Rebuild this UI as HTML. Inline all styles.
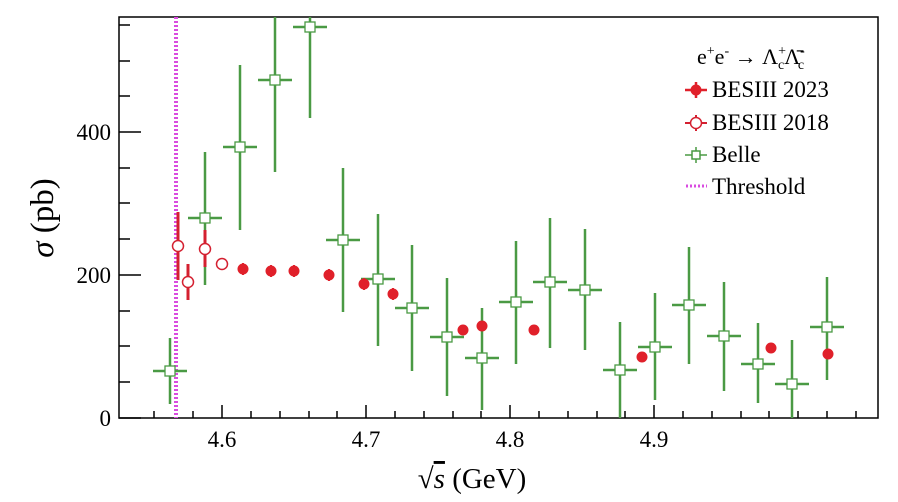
<!DOCTYPE html>
<html><head><style>body{margin:0;background:#fff}svg{display:block}</style></head><body>
<svg width="898" height="502" xmlns="http://www.w3.org/2000/svg" font-family="Liberation Serif, serif">
<rect width="898" height="502" fill="#fff"/>
<g stroke="#000" stroke-width="1.5" fill="none">
<rect x="119" y="17" width="759" height="401"/>
<path d="M119 418h22M119 275h22M119 132h22M119 382h11M119 346h11M119 311h11M119 239h11M119 203h11M119 168h11M119 96h11M119 61h11M119 25h11"/>
<path d="M222 418v-13M366 418v-13M510 418v-13M654 418v-13M154 418v-7M193 418v-7M251 418v-7M280 418v-7M309 418v-7M337 418v-7M395 418v-7M424 418v-7M453 418v-7M481 418v-7M539 418v-7M568 418v-7M597 418v-7M625 418v-7M683 418v-7M712 418v-7M741 418v-7M769 418v-7M798 418v-7M827 418v-7M856 418v-7"/>
</g>
<g font-size="23" fill="#000">
<text x="111" y="426" text-anchor="end">0</text>
<text x="111" y="283" text-anchor="end">200</text>
<text x="111" y="140" text-anchor="end">400</text>
<text x="222" y="447" text-anchor="middle">4.6</text>
<text x="366" y="447" text-anchor="middle">4.7</text>
<text x="510" y="447" text-anchor="middle">4.8</text>
<text x="654" y="447" text-anchor="middle">4.9</text>
</g>
<text transform="translate(53,218) rotate(-90)" font-size="33" text-anchor="middle"><tspan font-style="italic">σ</tspan> (pb)</text>
<text x="472" y="488" font-size="29" text-anchor="middle">√<tspan font-style="italic" text-decoration="overline">s</tspan> (GeV)</text>
<line x1="176" y1="17" x2="176" y2="418" stroke="#d94ce0" stroke-width="4" stroke-dasharray="2,2"/>
<g stroke="#4a9a44" stroke-width="2.5" fill="#fff">
<path d="M153 371h34M170 338v66"/><rect x="165" y="366" width="10" height="10" stroke-width="1.3"/>
<path d="M188 218h34M205 152v133"/><rect x="200" y="213" width="10" height="10" stroke-width="1.3"/>
<path d="M223 147h34M240 65v165"/><rect x="235" y="142" width="10" height="10" stroke-width="1.3"/>
<path d="M258 80h34M275 17v155"/><rect x="270" y="75" width="10" height="10" stroke-width="1.3"/>
<path d="M293 27h34M310 17v101"/><rect x="305" y="22" width="10" height="10" stroke-width="1.3"/>
<path d="M326 240h34M343 168v144"/><rect x="338" y="235" width="10" height="10" stroke-width="1.3"/>
<path d="M361 279h34M378 214v132"/><rect x="373" y="274" width="10" height="10" stroke-width="1.3"/>
<path d="M395 308h34M412 245v126"/><rect x="407" y="303" width="10" height="10" stroke-width="1.3"/>
<path d="M430 337h34M447 278v118"/><rect x="442" y="332" width="10" height="10" stroke-width="1.3"/>
<path d="M465 358h34M482 308v102"/><rect x="477" y="353" width="10" height="10" stroke-width="1.3"/>
<path d="M499 302h34M516 241v123"/><rect x="511" y="297" width="10" height="10" stroke-width="1.3"/>
<path d="M533 282h34M550 218v130"/><rect x="545" y="277" width="10" height="10" stroke-width="1.3"/>
<path d="M568 290h34M585 229v121"/><rect x="580" y="285" width="10" height="10" stroke-width="1.3"/>
<path d="M603 370h34M620 322v96"/><rect x="615" y="365" width="10" height="10" stroke-width="1.3"/>
<path d="M638 347h34M655 293v107"/><rect x="650" y="342" width="10" height="10" stroke-width="1.3"/>
<path d="M672 305h34M689 247v117"/><rect x="684" y="300" width="10" height="10" stroke-width="1.3"/>
<path d="M707 336h34M724 282v109"/><rect x="719" y="331" width="10" height="10" stroke-width="1.3"/>
<path d="M741 364h34M758 323v80"/><rect x="753" y="359" width="10" height="10" stroke-width="1.3"/>
<path d="M775 384h34M792 340v78"/><rect x="787" y="379" width="10" height="10" stroke-width="1.3"/>
<path d="M810 327h34M827 277v103"/><rect x="822" y="322" width="10" height="10" stroke-width="1.3"/>
</g>
<g stroke="#d42030" stroke-width="3" fill="#fff">
<path d="M178 212v68M188 264v36M205 230v37M222 259v11"/>
<g stroke-width="1.5"><circle cx="178" cy="246" r="5.5"/><circle cx="188" cy="282" r="5.5"/><circle cx="205" cy="249" r="5.5"/><circle cx="222" cy="264" r="5.5"/></g>
</g>
<g fill="#e0202a" stroke="#e0202a" stroke-width="2">
<circle cx="243" cy="269" r="4.5"/><circle cx="271" cy="271" r="4.5"/><circle cx="294" cy="271" r="4.5"/><circle cx="329" cy="275" r="4.5"/><circle cx="364" cy="284" r="4.5"/><circle cx="393" cy="294" r="4.5"/><circle cx="463" cy="330" r="4.5"/><circle cx="482" cy="326" r="4.5"/><circle cx="534" cy="330" r="4.5"/><circle cx="642" cy="357" r="4.5"/><circle cx="771" cy="348" r="4.5"/><circle cx="828" cy="354" r="4.5"/>
<path d="M243 263v12M271 265v12M294 265v12M329 269v12M364 278v12M393 288v12"/>
</g>
<g font-size="23" fill="#000">
<text x="697" y="64" font-size="22">e<tspan dy="-9" font-size="14">+</tspan><tspan dy="9">e</tspan><tspan dy="-9" font-size="14">-</tspan><tspan dy="9"> → Λ</tspan><tspan dy="-9" font-size="14">+</tspan><tspan dx="-8" dy="14" font-size="14">c</tspan><tspan dy="-5">Λ̄</tspan><tspan dy="-9" font-size="14">-</tspan><tspan dx="-7" dy="14" font-size="14">c</tspan></text>
<text x="712" y="97">BESIII 2023</text>
<text x="712" y="130">BESIII 2018</text>
<text x="712" y="162">Belle</text>
<text x="712" y="194">Threshold</text>
</g>
<g stroke="#e0202a" stroke-width="2.5"><path d="M685 90h22M696 82v16"/></g><circle cx="696" cy="90" r="5.5" fill="#e0202a"/>
<g stroke="#d42030" stroke-width="2"><path d="M685 123h22M696 115v16"/></g><circle cx="696" cy="123" r="5.5" fill="#fff" stroke="#d42030" stroke-width="1.5"/>
<g stroke="#4a9a44" stroke-width="1.5"><path d="M685 155h22M696 147v16"/><rect x="692" y="151" width="8" height="8" fill="#fff"/></g>
<line x1="686" y1="186" x2="707" y2="186" stroke="#d94ce0" stroke-width="3" stroke-dasharray="2,2"/>
</svg>
</body></html>
